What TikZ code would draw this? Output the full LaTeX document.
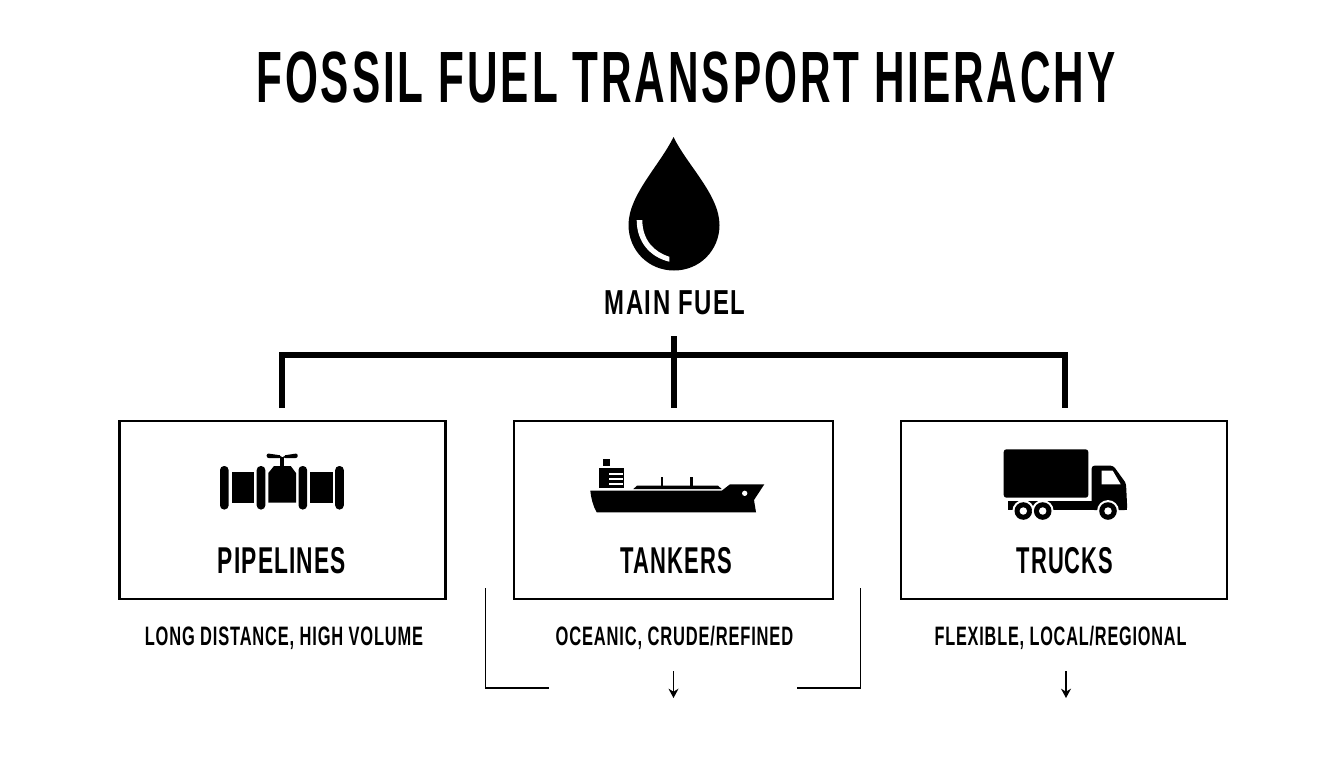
\documentclass[tikz,border=0pt]{standalone}
\usepackage{graphicx}
\usepackage{fontspec}
\setmainfont{Liberation Sans}
\usetikzlibrary{arrows.meta}
\newcommand{\squeezed}[4]{{\fontsize{#1}{#1}\bfseries\addfontfeatures{LetterSpace=#3}\scalebox{#2}[1]{#4}}}
\begin{document}
\begin{tikzpicture}[x=0.75pt,y=0.75pt,yscale=-1,xscale=1]
  \tikzstyle{busline} = [line width=4.5pt]
  \tikzstyle{thinline} = [line width=1.3pt]
  \tikzstyle{smallarrow} = [line width=1.1pt,-{Stealth[length=7pt,width=7.5pt]}]
  \tikzstyle{modebox} = [draw,line width=1.6pt,minimum height=133.5pt,inner sep=0pt]
  \tikzstyle{txt} = [inner sep=0pt,anchor=base]
  \useasboundingbox (0,0) rectangle (1344,768);
  \fill[white] (0,0) rectangle (1344,768);

  %Draw the title and the main label
  \node[txt] (title) at (686,102.5) {\squeezed{54.5}{0.582}{7}{FOSSIL FUEL TRANSPORT HIERACHY}};
  \node[txt] (mainfuel) at (675,314.5) {\squeezed{26}{0.69}{6}{MAIN FUEL}};

  %Draw the drop
  \fill (673.5,137) .. controls (660,165) and (628.5,195) .. (628.5,225)
    .. controls (628.5,250) and (648,270.5) .. (674,270.5)
    .. controls (700,270.5) and (719.5,250) .. (719.5,225)
    .. controls (719.5,195) and (687,165) .. cycle;
  \fill[white] (636.7,220) .. controls (636.7,242) and (650,257) .. (669.3,261.7)
    -- (669.3,256.7) .. controls (654,252) and (642.3,240) .. (642.3,220) -- cycle;

  %Draw the boxes
  \node[modebox,minimum width=244.5pt] (pipebox) at (282.5,510) {};
  \node[modebox,minimum width=239.25pt] (tankbox) at (673.5,510) {};
  \node[modebox,minimum width=244.5pt] (truckbox) at (1064,510) {};

  % Label the boxes
  \node[txt] (pipelabel) at (282,573.5) {\squeezed{28}{0.61}{5}{PIPELINES}};
  \node[txt] (tanklabel) at (676,573.5) {\squeezed{28}{0.59}{5}{TANKERS}};
  \node[txt] (trucklabel) at (1065,573.5) {\squeezed{28}{0.587}{5}{TRUCKS}};
  \node[txt] (pipenote) at (284,645.5) {\squeezed{20}{0.617}{5}{LONG DISTANCE, HIGH VOLUME}};
  \node[txt] (tanknote) at (674.5,645.5) {\squeezed{20}{0.619}{5}{OCEANIC, CRUDE/REFINED}};
  \node[txt] (trucknote) at (1060.5,645.5) {\squeezed{20}{0.61}{5}{FLEXIBLE, LOCAL/REGIONAL}};

  %Draw the bus above the boxes
  \coordinate (pipedrop) at (282,408);
  \coordinate (tankdrop) at (674,408);
  \coordinate (truckdrop) at (1065,408);
  \coordinate (busleft) at (282,355);
  \coordinate (busright) at (1065,355);
  \coordinate (busstem) at (674,336);
  \draw[busline] (pipedrop) -- (busleft) -- (busright) -- (truckdrop);
  \draw[busline] (busstem) -- (tankdrop);

  %Draw the open brackets and arrows below
  \coordinate (bracketa) at (485.5,588);
  \coordinate (bracketb) at (485.5,688);
  \coordinate (bracketc) at (548.5,688);
  \coordinate (bracketd) at (797,688);
  \coordinate (brackete) at (860.5,688);
  \coordinate (bracketf) at (860.5,588);
  \draw[thinline] (bracketa) -- (bracketb) -- (bracketc);
  \draw[thinline] (bracketd) -- (brackete) -- (bracketf);
  \coordinate (tankarrow) at (673.5,671);
  \coordinate (tankhead) at (673.5,698);
  \coordinate (truckarrow) at (1066,671);
  \coordinate (truckhead) at (1066,698);
  \draw[smallarrow] (tankarrow) -- (tankhead);
  \draw[smallarrow] (truckarrow) -- (truckhead);

  %Draw the pipe
  \foreach \xpos in {224.3,261,302.8,339.5} {
    \fill[rounded corners=3pt] (\xpos-4.3,466) rectangle (\xpos+4.3,509.5);
  }
  \fill (231.7,472.3) rectangle (254,502.7);
  \fill (310,472.3) rectangle (332.7,502.7);
  \fill (268.3,502.7) -- (268.3,473) -- (274,466) -- (290.7,466) -- (296,473) -- (296,502.7) -- cycle;
  \fill (280.3,457) rectangle (284,466);
  \fill[rounded corners=1.5pt] (266.7,453.3) -- (281.7,455.5) -- (281.7,458) -- (266.7,458) -- cycle;
  \fill[rounded corners=1.5pt] (283.3,455.5) -- (297.7,453.3) -- (297.7,458) -- (283.3,458) -- cycle;

  %Draw the ship
  \fill (590.3,490.7) -- (721.7,490.7) -- (730,484.3) -- (764.3,484.3) -- (754,500) -- (756,512.3) -- (596.7,512.3)
    .. controls (593,506) and (591,498) .. cycle;
  \fill[white] (744.7,493.3) circle (2pt);
  \fill (633.3,489) -- (637,485.7) -- (718,485.7) -- (721.7,489) -- cycle;
  \fill (660.7,476.7) rectangle (663.3,486);
  \fill (690.3,476.7) rectangle (693,486);
  \fill (599.3,468.3) rectangle (624.3,488.3);
  \fill (602.7,458.7) rectangle (610,466.3);
  \foreach \ypos in {472.7,477.7,482.7} {
    \fill[white] (609.3,\ypos) rectangle (622.7,\ypos+2.3);
  }

  %Draw the truck
  \fill[rounded corners=2pt] (1003.7,449.3) rectangle (1088.3,497.7);
  \fill (1008.3,501) rectangle (1127.3,510.3);
  \fill[rounded corners=2pt] (1091.7,510) -- (1091.7,465.7) -- (1113.3,465.7) -- (1126,483.3) -- (1127.3,510) -- cycle;
  \fill[white] (1101.7,470.7) -- (1112.7,470.7) -- (1120.7,484.3) -- (1101.7,484.3) -- cycle;
  \foreach \xpos in {1023.3,1042.7,1108} {
    \fill[white] (\xpos,511) circle (8.2pt);
    \fill (\xpos,511) circle (6.6pt);
    \fill[white] (\xpos,511) circle (2.8pt);
  }
\end{tikzpicture}
\end{document}
